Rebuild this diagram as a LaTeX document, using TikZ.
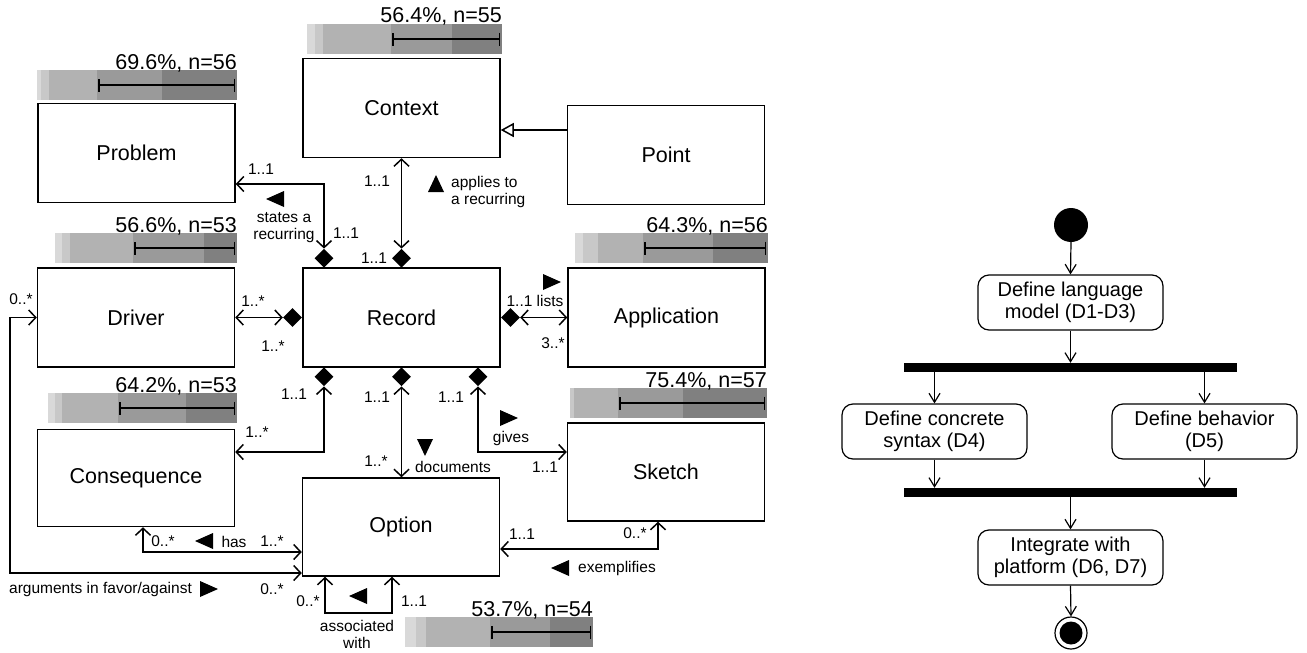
\documentclass[tikz,border=0pt]{standalone}
\usepackage{fontspec}
\setmainfont{Liberation Sans}
\usetikzlibrary{arrows.meta,shapes.geometric,calc}
\definecolor{ga}{RGB}{217,217,217}
\definecolor{gb}{RGB}{200,200,200}
\definecolor{gc}{RGB}{178,178,178}
\definecolor{gd}{RGB}{154,154,154}
\definecolor{ge}{RGB}{128,128,128}
\newcommand\accbar[8]{%
 \fill[ga] (#2,#1) rectangle (#3,{#1+30});
 \fill[gb] (#3,#1) rectangle (#4,{#1+30});
 \fill[gc] (#4,#1) rectangle (#5,{#1+30});
 \fill[gd] (#5,#1) rectangle (#6,{#1+30});
 \fill[ge] (#6,#1) rectangle (#7,{#1+30});
 \draw[line width=1.5pt,{Bar[width=13pt]}-{Bar[width=13pt]}] ({#5+1},{#1+15}) -- ({#7-2},{#1+15});
 \node[bartitle] at (#7,{#1-1}) {#8};}
\newcommand\trL[2]{\fill ({#1-9},{#2}) -- ({#1+9},{#2-8}) -- ({#1+9},{#2+8}) -- cycle;}
\newcommand\trR[2]{\fill ({#1+9},{#2}) -- ({#1-9},{#2-8}) -- ({#1-9},{#2+8}) -- cycle;}
\newcommand\trU[2]{\fill ({#1},{#2-9}) -- ({#1-8},{#2+8}) -- ({#1+8},{#2+8}) -- cycle;}
\newcommand\trD[2]{\fill ({#1},{#2+9}) -- ({#1-8},{#2-8}) -- ({#1+8},{#2-8}) -- cycle;}
\tikzset{
 cls/.style={draw,line width=1.5pt,minimum width=197pt,minimum height=99pt,inner sep=0,font=\fontsize{21.5}{24}\selectfont},
 dia/.style={diamond,fill=black,inner sep=0,minimum width=19pt,minimum height=19pt},
 lab/.style={inner sep=0,font=\fontsize{15.5}{17}\selectfont,align=center},
 bartitle/.style={anchor=base east,inner sep=0,font=\fontsize{21.5}{24}\selectfont},
 assoc/.style={line width=1.5pt,{Straight Barb[length=7pt,width=15pt]}-{Straight Barb[length=7pt,width=15pt]}},
 act/.style={draw,line width=1.2pt,rounded corners=11pt,minimum width=185pt,minimum height=55pt,inner sep=0,align=center,font=\fontsize{20}{22}\selectfont},
 flow/.style={line width=1.2pt,-{Straight Barb[length=9pt,width=11pt]}},
 syncbar/.style={fill=black,minimum width=333pt,minimum height=9pt,inner sep=0}
}
\begin{document}
\begin{tikzpicture}[x=1pt,y=-1pt]
\useasboundingbox[fill=white] (0,0) rectangle (1307,653);
% bars
\accbar{24}{307}{315}{323}{391}{452}{502}{56.4\%, n=55}
\accbar{70}{37}{41}{49}{97}{162}{237}{69.6\%, n=56}
\accbar{233}{55}{62}{70}{133}{204}{237}{56.6\%, n=53}
\accbar{233}{575}{583}{598}{643}{713}{768}{64.3\%, n=56}
\accbar{393}{48}{55}{62}{118}{186}{237}{64.2\%, n=53}
\accbar{388}{570}{570}{574}{618}{683}{767}{75.4\%, n=57}
\accbar{617}{405}{416}{426}{490}{550}{593}{53.7\%, n=54}
% classes
\node[cls] (ctx) at (401.5,108) {Context};
\node[cls] (prob) at (136.5,153) {Problem};
\node[cls] (pt) at (666,155) {Point};
\node[cls] (drv) at (136,317.5) {Driver};
\node[cls] (rec) at (401.5,317.5) {Record};
\node[cls] (app) at (666.5,317.5) {Application};
\node[cls, minimum height=97pt] (cons) at (136,478) {Consequence};
\node[cls, minimum height=98pt] (opt) at (401,527) {Option};
\node[cls, minimum height=98pt] (sk) at (666,472) {Sketch};
% diamonds
\node[dia,anchor=south] (dA) at (401.5,268) {};
\node[dia,anchor=south] (dB) at (324,268) {};
\node[dia,anchor=east] (dC) at (rec.west) {};
\node[dia,anchor=west] (dD) at (rec.east) {};
\node[dia,anchor=north] (dE) at (324,367) {};
\node[dia,anchor=north] (dF) at (401.5,367) {};
\node[dia,anchor=north] (dG) at (478,367) {};
% associations
\draw[assoc] (dA.north) -- (ctx.south -| dA.north);
\draw[assoc] (dB.north) |- ([yshift=-31pt]prob.east);
\draw[assoc] (dC.west) -- (drv.east |- dC.west);
\draw[assoc] (dD.east) -- (app.west |- dD.east);
\draw[assoc] (dE.south) |- ([yshift=26pt]cons.east);
\draw[assoc] (dF.south) -- (opt.north -| dF.south);
\draw[assoc] (dG.south) |- ([yshift=20pt]sk.west);
\draw[assoc] ([xshift=7pt]cons.south) |- ([yshift=-25pt]opt.west);
\coordinate (lft) at (10,450);
\draw[assoc] ([yshift=-46pt]opt.west) -| (lft) |- (drv.west);
\draw[assoc] ([xshift=-76pt]opt.south) -- ++(0,36) -| ([xshift=-9pt]opt.south);
\draw[assoc] ([xshift=-8pt]sk.south) |- ([yshift=-22pt]opt.east);
\draw[line width=1.5pt,-{Triangle[open,length=13pt,width=14pt]}] ([yshift=25pt]pt.west) -- ([yshift=-22pt]ctx.east);
% labels
\node[lab] at (261,169) {1..1};
\node[lab] at (346,233) {1..1};
\node[lab] at (377,181) {1..1};
\node[lab] at (374,258) {1..1};
\node[lab] at (284,228) {states a\\recurring};
\trL{275}{199}
\trU{436}{184}
\node[lab,anchor=west,align=left] at (451,192) {applies to\\a recurring};
\node[lab] at (21,299) {0..*};
\node[lab] at (253,301) {1..*};
\node[lab] at (273,346) {1..*};
\node[lab] at (535,301) {1..1 lists};
\trR{552}{282}
\node[lab] at (553,343) {3..*};
\node[lab] at (294,394) {1..1};
\node[lab] at (257,432) {1..*};
\node[lab] at (377,397) {1..1};
\node[lab] at (451,397) {1..1};
\node[lab] at (376,461) {1..*};
\trD{425}{447}
\node[lab] at (453,467) {documents};
\trR{509}{418}
\node[lab] at (511,438) {gives};
\node[lab] at (545,467) {1..1};
\node[lab] at (163,541) {0..*};
\trL{204}{541}
\node[lab] at (234,542) {has};
\node[lab] at (272,541) {1..*};
\node[lab,anchor=west] at (9,589) {arguments in favor/against};
\trR{209}{589}
\node[lab] at (272,589) {0..*};
\node[lab] at (308,601) {0..*};
\trL{358}{596}
\node[lab] at (414,601) {1..1};
\node[lab] at (357,634) {associated\\with};
\node[lab] at (522,534) {1..1};
\node[lab] at (635,533) {0..*};
\trL{560}{568}
\node[lab] at (617,568) {exemplifies};
% activity diagram
\node[circle,fill=black,minimum size=34pt,inner sep=0] (init) at (1071,225) {};
\node[act] (a1) at (1070.5,302.5) {Define language\\model (D1-D3)};
\node[syncbar] (s1) at (1070.5,367.5) {};
\node[act] (a2) at (934.5,431.5) {Define concrete\\syntax (D4)};
\node[act] (a3) at (1204.5,431.5) {Define behavior\\(D5)};
\node[syncbar] (s2) at (1070.5,492.5) {};
\node[act] (a4) at (1070.5,557.5) {Integrate with\\platform (D6, D7)};
\node[circle,draw,line width=1.2pt,minimum size=32pt,inner sep=0] (fin) at (1071,633) {};
\node[circle,fill=black,minimum size=23pt,inner sep=0] (finc) at (fin.center) {};
\draw[flow] (init.south) -- (a1.north);
\draw[flow] (a1.south) -- (s1.north -| a1.south);
\draw[flow] (s1.south -| a2.north) -- (a2.north);
\draw[flow] (s1.south -| a3.north) -- (a3.north);
\draw[flow] (a2.south) -- (s2.north -| a2.south);
\draw[flow] (a3.south) -- (s2.north -| a3.south);
\draw[flow] (s2.south -| a4.north) -- (a4.north);
\draw[flow] (a4.south) -- (fin.north);
\end{tikzpicture}
\end{document}
